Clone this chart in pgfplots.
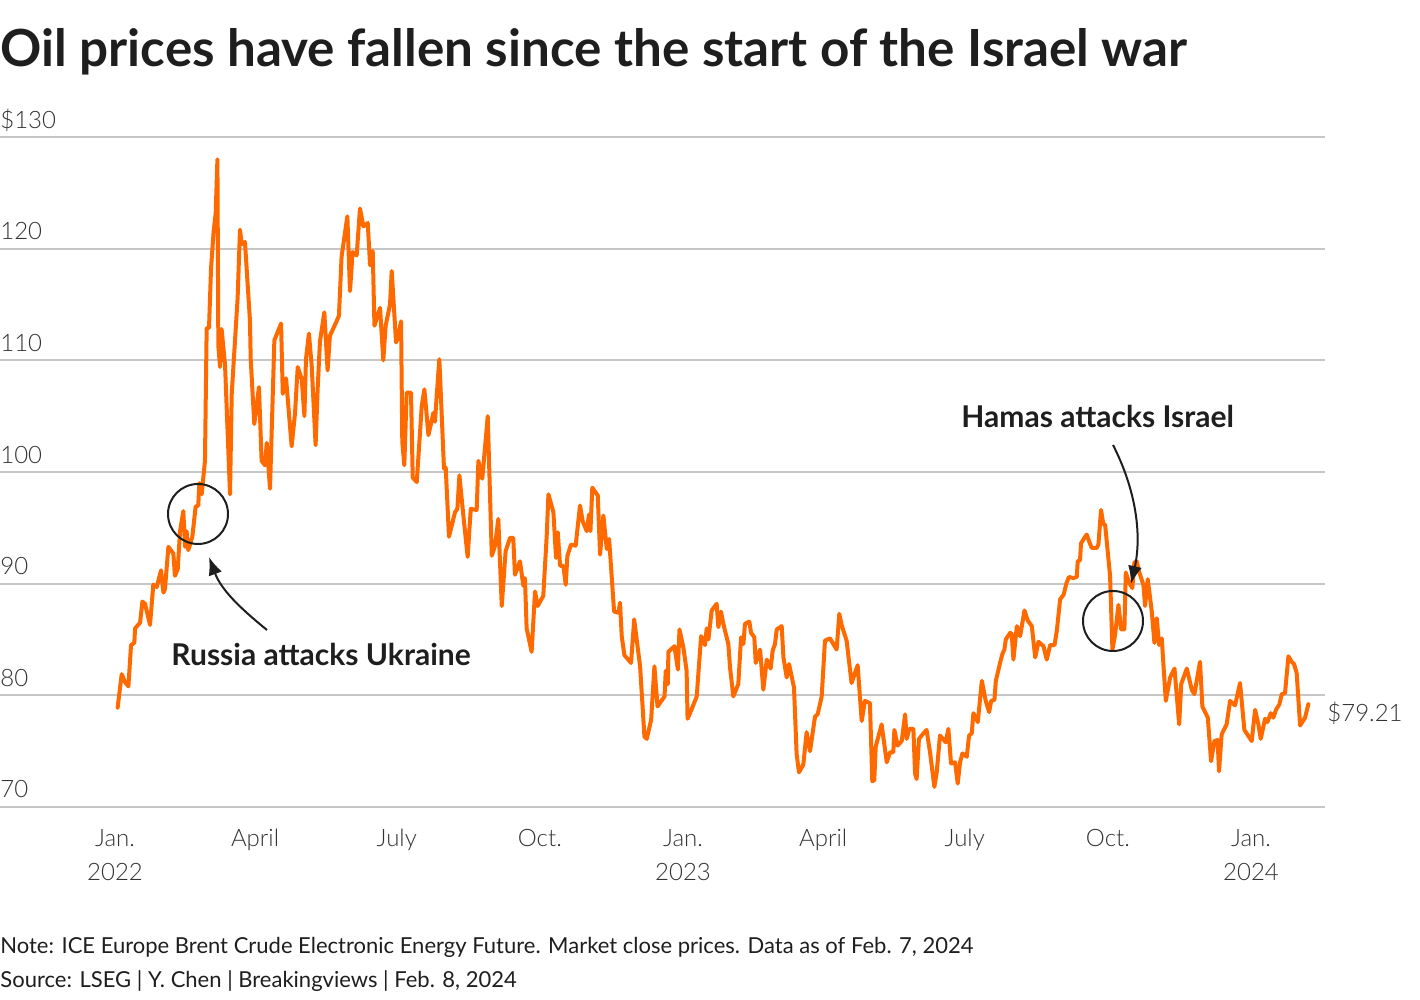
\documentclass[border=0pt]{standalone}
\usepackage{fontspec}
\setmainfont{Lato}
\newfontfamily\lightfont{Lato Light}
\usepackage{pgfplots}
\pgfplotsset{compat=1.18}
\usetikzlibrary{arrows.meta}
\definecolor{oil}{HTML}{FF6A00}
\definecolor{gridc}{HTML}{C6C6C6}
\definecolor{txt}{HTML}{1E1E1E}
\definecolor{lbl}{HTML}{333333}
\begin{document}
\begin{tikzpicture}
\useasboundingbox (0pt,-96.5pt) rectangle (710pt,403.5pt);
\begin{axis}[at={(0pt,0pt)}, anchor=south west, scale only axis,
  width=662.5pt, height=335pt,
  xmin=-73.9, xmax=777.5, ymin=70, ymax=130,
  axis line style={draw=none}, major tick length=0pt,
  ymajorgrids, grid style={gridc, line width=1pt},
  ytick={70,80,90,100,110,120,130},
  yticklabels={70,80,90,100,110,120,\$130},
  yticklabel style={anchor=base west, inner sep=0pt, yshift=4.5pt,
    font=\lightfont\fontsize{12}{14}\selectfont, text=lbl},
  xtick={0,90,181,273,365,455,546,638,730},
  xticklabels={Jan.\\2022,April,July,Oct.,Jan.\\2023,April,July,Oct.,Jan.\\2024},
  xticklabel style={align=center, anchor=north, inner sep=0pt, yshift=-11pt,
    font=\lightfont\fontsize{12}{17}\selectfont, text=lbl},
  clip=false]
\addplot[oil, line width=2pt, line join=round, line cap=round] coordinates {
(1.7,78.9)(4.3,81.9)(6.4,81.2)(8.6,80.8)(10.3,84.5)(12.4,84.7)(12.9,86.0)(16.1,86.5)(17.6,88.4)(19.3,88.2)(22.5,86.3)(24.6,89.9)(26.8,89.7)(29.6,91.2)(31.1,89.2)(32.1,89.5)(34.3,93.3)(37.5,92.7)(38.5,90.7)(40.3,91.3)(41.8,94.7)(43.9,96.5)(45.0,93.3)(46.0,94.7)(47.1,93.0)(49.7,94.2)(51.8,96.9)(53.5,97.0)(54.2,99.0)(55.7,98.0)(57.8,101.0)(58.9,112.9)(60.4,112.9)(61.7,118.2)(63.4,121.6)(64.7,123.2)(65.8,128.0)(66.4,111.3)(67.5,109.4)(68.5,112.8)(70.7,109.6)(73.9,98.0)(75.0,107.0)(78.8,115.6)(80.3,121.7)(81.4,120.4)(83.5,120.6)(86.7,113.6)(87.2,110.1)(89.5,104.3)(92.5,107.6)(94.2,101.0)(96.4,100.6)(97.5,102.6)(99.6,98.5)(102.4,111.8)(106.7,113.3)(107.8,107.0)(109.9,108.4)(113.5,102.3)(115.7,105.3)(117.4,109.4)(120.0,108.3)(121.7,105.0)
(122.7,110.1)(124.6,112.4)(126.4,109.5)(128.9,102.4)(130.2,107.4)(131.7,111.7)(134.5,114.3)(136.6,109.1)(138.1,112.2)(142.4,113.5)(143.9,114.0)(145.6,119.3)(149.3,122.9)(151.0,116.2)(152.7,119.7)(155.3,119.4)(157.4,123.6)(159.6,122.0)(162.4,122.3)(163.9,118.5)(165.6,119.8)(166.7,113.1)(170.3,114.7)(172.4,110.0)(173.9,113.1)(176.7,115.0)(177.8,118.0)(180.6,111.6)(182.1,112.2)(183.8,113.5)(184.6,102.7)(185.9,100.6)(187.4,107.1)(190.2,107.1)(191.3,99.5)(193.9,99.1)(197.1,105.9)(198.8,107.4)(201.4,103.3)(204.6,105.3)(205.6,104.5)(206.7,106.8)(208.4,110.1)(211.4,100.3)(212.5,100.4)(214.6,94.2)(218.5,96.4)(220.0,96.7)(221.3,99.7)(223.9,96.0)(226.6,92.4)(228.6,96.7)(232.4,96.6)(233.5,101.0)(236.0,99.4)(239.5,105.0)(242.1,92.5)(244.2,93.4)
(246.3,95.8)(248.5,88.0)(251.0,92.9)(253.8,94.1)(255.9,94.1)(257.0,90.8)(260.2,92.0)(262.4,89.8)(263.4,90.5)(264.5,86.0)(267.7,83.9)(269.9,89.3)(271.6,88.0)(275.2,88.9)(277.4,94.3)(278.5,98.0)(281.7,96.4)(283.4,92.3)(284.5,94.6)(286.0,91.6)(288.1,91.6)(289.6,89.9)(290.7,92.5)(293.0,93.5)(296.0,93.4)(298.8,97.0)(300.5,95.6)(303.1,94.7)(304.6,96.2)(305.5,94.7)(306.7,98.6)(310.2,97.9)(311.7,92.6)(313.8,96.1)(316.0,93.1)(317.5,94.0)(320.7,87.5)(323.5,87.4)(324.5,88.3)(325.6,85.3)(327.3,83.6)(331.6,82.9)(333.6,86.8)(337.4,82.6)(340.2,76.3)(341.7,76.1)(344.5,77.8)(346.6,82.6)(348.6,79.0)(353.1,79.9)(353.9,82.2)(355.2,81.0)(355.6,83.9)(359.5,84.4)(361.7,82.3)(362.7,85.9)
(365.2,84.3)(367.3,82.2)(367.9,77.9)(369.5,78.4)(373.8,79.9)(376.6,85.3)(379.1,84.5)(380.2,86.0)(381.3,85.0)(383.4,87.6)(386.6,88.2)(387.7,86.1)(389.4,87.5)(390.9,86.4)(394.1,84.6)(395.2,82.5)(397.3,79.9)(400.5,81.0)(402.3,85.2)(403.8,84.6)(404.8,86.4)(407.6,86.6)(408.7,85.6)(410.8,85.2)(411.7,82.9)(414.5,84.1)(416.6,80.5)(418.8,83.2)(421.3,82.4)(422.6,84.0)(424.1,84.6)(425.2,85.9)(428.4,86.2)(429.5,83.4)(431.6,81.6)(433.1,82.8)(436.3,80.7)(438.0,74.7)(439.5,73.1)(442.3,73.8)(444.4,76.7)(446.6,75.0)(449.8,78.1)(451.5,78.3)(454.1,79.9)(456.2,84.9)(459.4,85.1)(463.7,84.1)(465.4,87.3)(466.9,86.3)(470.1,84.9)(473.3,81.1)(477.2,82.7)(479.8,77.7)(481.9,79.5)(485.1,79.3)(486.6,72.3)
(487.9,72.4)(488.8,75.4)(492.6,77.4)(495.9,74.0)(498.0,74.9)(500.1,74.9)(500.8,76.9)(502.9,75.5)(505.5,75.9)(507.7,78.3)(508.7,76.1)(510.4,77.0)(513.0,77.0)(514.1,73.0)(515.1,72.5)(516.6,76.1)(520.1,76.7)(521.5,76.9)(523.7,74.9)(526.5,71.8)(528.0,73.1)(530.1,76.4)(533.8,75.8)(535.5,77.0)(537.2,73.9)(539.8,74.0)(541.5,72.1)(543.0,74.0)(544.5,74.8)(547.3,74.5)(548.8,76.4)(550.5,76.6)(551.6,78.4)(554.4,77.6)(557.0,81.3)(559.5,79.5)(561.7,78.5)(563.0,79.5)(565.1,79.6)(566.0,81.3)(568.7,82.9)(570.2,83.7)(571.5,84.1)(572.4,85.0)(575.2,85.6)(576.2,85.5)(577.3,83.2)(579.5,86.2)(581.6,85.3)(584.4,87.6)(586.5,86.7)(589.1,86.2)(591.3,83.4)(593.4,84.8)(596.6,84.4)(598.7,83.2)(600.9,84.5)(603.7,84.5)(605.2,85.8)(607.3,88.6)(609.5,89.0)
(611.5,90.1)(613.0,90.6)(615.8,90.5)(618.0,90.6)(618.6,92.0)(620.1,92.1)(620.7,93.6)(622.9,94.1)(624.4,94.4)(625.9,93.8)(627.6,93.2)(630.8,93.2)(631.9,93.5)(633.6,96.6)(635.1,95.3)(636.2,95.3)(639.4,90.7)(640.9,84.1)(642.6,85.4)(644.8,88.1)(646.5,85.9)(648.6,85.9)(649.5,91.0)(651.6,90.1)(653.7,89.6)(655.0,91.9)(656.5,92.0)(658.0,91.1)(660.8,89.9)(661.9,88.0)(663.6,90.4)(666.2,87.5)(667.9,84.7)(669.4,86.9)(670.9,84.5)(672.6,85.1)(675.2,79.5)(678.0,81.6)(680.8,82.4)(683.8,77.4)(685.1,81.0)(688.7,82.4)(691.9,80.5)(693.6,80.1)(695.8,81.9)(697.2,83.0)(698.7,79.0)(702.2,78.0)(704.3,74.1)(706.4,75.9)(708.5,76.0)(709.4,73.2)(711.1,76.5)(714.3,77.4)(716.5,79.5)(719.7,79.1)(722.9,81.1)(725.7,76.9)(730.4,75.9)
(732.6,78.7)(734.7,77.4)(736.2,76.1)(739.0,77.9)(740.5,77.6)(742.6,78.4)(744.3,78.0)(746.0,78.7)(748.2,79.2)(749.7,80.1)(751.8,80.2)(754.0,83.5)(756.1,83.0)(757.6,82.8)(759.3,82.0)(761.5,77.3)(764.7,78.0)(766.8,79.21)
};
\end{axis}
\begin{scope}[shift={(0pt,403.5pt)}, x=0.5pt, y=-0.5pt]
\node[anchor=base west, inner sep=0pt, text=txt, font=\bfseries\fontsize{25.6}{30}\selectfont] at (0,67) {Oil prices have fallen since the start of the Israel war};
\node[anchor=base west, inner sep=0pt, text=txt, font=\bfseries\fontsize{15}{18}\selectfont] at (171,666) {Russia attacks Ukraine};
\node[anchor=base west, inner sep=0pt, text=txt, font=\bfseries\fontsize{15}{18}\selectfont] at (961,428) {Hamas attacks Israel};
\node[anchor=base west, inner sep=0pt, text=lbl, font=\lightfont\fontsize{12}{14}\selectfont] at (1327,722) {\$79.21};
\node[anchor=base west, inner sep=0pt, text=txt, font=\fontsize{11}{13}\selectfont] at (0,954) {Note: ICE Europe Brent Crude Electronic Energy Future. Market close prices. Data as of Feb. 7, 2024};
\node[anchor=base west, inner sep=0pt, text=txt, font=\fontsize{11}{13}\selectfont] at (0,988) {Source: LSEG | Y. Chen | Breakingviews | Feb. 8, 2024};
\draw[txt, line width=1pt] (198,514) circle [radius=15pt];
\draw[txt, line width=1pt] (1113,621) circle [radius=15pt];
\draw[txt, line width=1pt, -{Latex[length=9pt, width=7pt]}] (267,630) .. controls (245,612) and (222,592) .. (209,557);
\draw[txt, line width=1pt, -{Latex[length=9pt, width=7pt]}] (1113,445) .. controls (1136,490) and (1142,535) .. (1131,584);
\end{scope}
\end{tikzpicture}
\end{document}
